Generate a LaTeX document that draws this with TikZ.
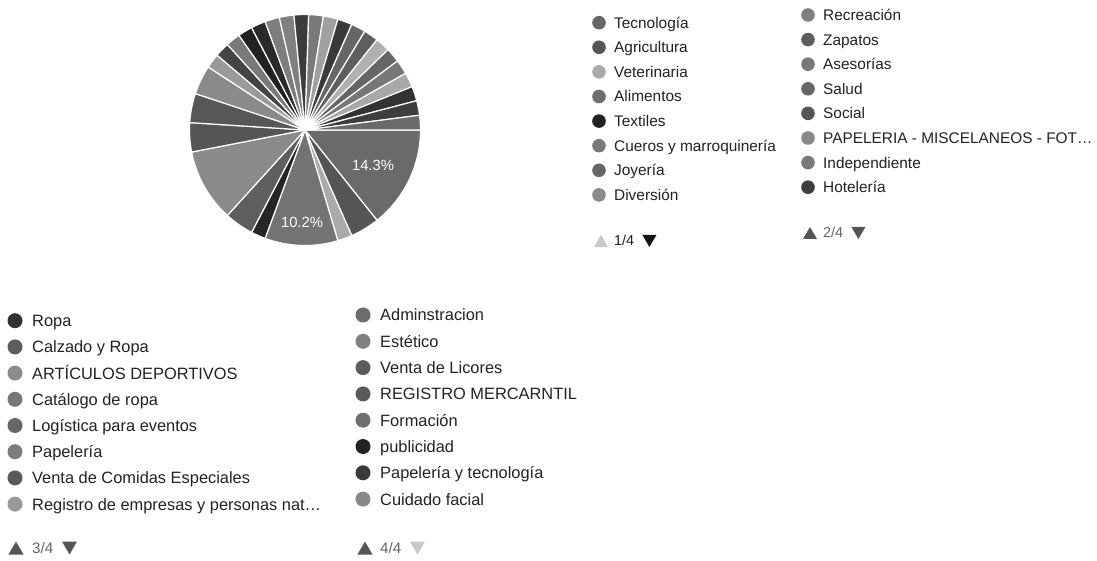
\documentclass[tikz,border=0pt]{standalone}
\usepackage{fontspec}
\setmainfont{Liberation Sans}
\usetikzlibrary{calc}
\definecolor{txt}{HTML}{222222}
\definecolor{navtxt}{HTML}{666666}
\definecolor{navon}{HTML}{555555}
\definecolor{navoff}{HTML}{C8C8C8}
\tikzset{
  slice/.style={draw=white, line width=1.2pt, line join=round},
  dottop/.style={circle, inner sep=0pt, minimum size=13.6pt},
  dotbot/.style={circle, inner sep=0pt, minimum size=15pt},
  legtop/.style={anchor=base west, inner sep=0pt, text=txt, font=\fontsize{15.4}{18}\selectfont},
  legbot/.style={anchor=base west, inner sep=0pt, text=txt, font=\fontsize{16.4}{19}\selectfont},
  navtop/.style={anchor=base west, inner sep=0pt, font=\fontsize{14.4}{17}\selectfont},
  navbot/.style={anchor=base west, inner sep=0pt, font=\fontsize{15.2}{18}\selectfont},
  pct/.style={text=white, font=\fontsize{14.8}{17}\selectfont, inner sep=0pt}
}
\begin{document}
\begin{tikzpicture}[x=1pt,y=1pt]
\useasboundingbox (0,0) rectangle (1097,560);
\fill[white] (0,0) rectangle (1097,560);

% ---------- pie ----------
\coordinate (P) at (305,430);
\foreach \a/\b/\k in {0/7/58.4, 7/9/66.7, 9/10/33.3, 10/15/54.9, 15/16/85.5, 16/18/63.1,
  18/23/45.9, 23/25/66.7, 25/27/65.9, 27/29/45.9, 29/30/39.6, 30/31/73.3, 31/32/52.2,
  32/33/86.7, 33/34/83.5, 34/35/50.6, 35/36/49.8, 36/37/76.5, 37/38/52.2, 38/39/37.3,
  39/40/77.3, 40/41/60, 41/42/63.1, 42/43/31, 43/44/60, 44/45/53.3, 45/46/34.1,
  46/47/80, 47/48/75.7, 48/49/58.4} {
  \fill[black!\k, slice] (P) -- ++({-\a*7.3469388}:115.5)
    arc[start angle={-\a*7.3469388}, end angle={-\b*7.3469388}, radius=115.5] -- cycle;
}
\node[pct] (l1) at (373,395) {14.3\%};
\node[pct] (l2) at (302,338) {10.2\%};

% ---------- legend page 1 ----------
\foreach \t/\k [count=\i from 0] in {Tecnología/60, Agricultura/66.7, Veterinaria/33.3,
  Alimentos/56.9, Textiles/86.7, Cueros y marroquinería/52.2, Joyería/60, Diversión/45.9} {
  \node[dottop, fill=black!\k] (a\i) at (599, {560-22.7-24.6*\i}) {};
  \node[legtop] (at\i) at (614, {560-22.7-24.6*\i-5.5}) {\t};
}
% ---------- legend page 2 ----------
\foreach \t/\k [count=\i from 0] in {Recreación/49.8, Zapatos/63.1, Asesorías/52.9,
  Salud/60, Social/66.7, PAPELERIA - MISCELANEOS - FOT…/46.7, Independiente/52.2, Hotelería/75.7} {
  \node[dottop, fill=black!\k] (b\i) at (808, {560-15-24.6*\i}) {};
  \node[legtop] (bt\i) at (823, {560-15-24.6*\i-5.5}) {\t};
}
% ---------- legend page 3 ----------
\foreach \t/\k [count=\i from 0] in {Ropa/80, Calzado y Ropa/63.9, ARTÍCULOS DEPORTIVOS/45.1,
  Catálogo de ropa/53.3, Logística para eventos/60, Papelería/51.4,
  Venta de Comidas Especiales/64.7, Registro de empresas y personas nat…/40} {
  \node[dotbot, fill=black!\k] (c\i) at (15, {560-320.7-26.2*\i}) {};
  \node[legbot] (ct\i) at (32, {560-320.7-26.2*\i-5.9}) {\t};
}
% ---------- legend page 4 ----------
\foreach \t/\k [count=\i from 0] in {Adminstracion/57.6, Estético/49.8, Venta de Licores/63.9,
  REGISTRO MERCARNTIL/64.7, Formación/56.1, publicidad/86.7, Papelería y tecnología/77.3,
  Cuidado facial/46.7} {
  \node[dotbot, fill=black!\k] (d\i) at (363, {560-315-26.3*\i}) {};
  \node[legbot] (dt\i) at (380, {560-315-26.3*\i-5.9}) {\t};
}

% ---------- navigation ----------
\coordinate (u1) at (601,319);
\node[navtop, text=txt] (n1) at (614,314) {1/4};
\coordinate (v1) at ($(n1.east|-u1)+(15,0)$);
\fill[navoff] (u1) +(-7,-6) -- +(7,-6) -- +(0,6) -- cycle;
\fill[black!93] (v1) +(-7,6) -- +(7,6) -- +(0,-6) -- cycle;

\coordinate (u2) at (810,327);
\node[navtop, text=navtxt] (n2) at (823,322) {2/4};
\coordinate (v2) at ($(n2.east|-u2)+(15,0)$);
\fill[navon] (u2) +(-7,-6) -- +(7,-6) -- +(0,6) -- cycle;
\fill[navon] (v2) +(-7,6) -- +(7,6) -- +(0,-6) -- cycle;

\coordinate (u3) at (16,12);
\node[navbot, text=navtxt] (n3) at (32,6.6) {3/4};
\coordinate (v3) at ($(n3.east|-u3)+(16,0)$);
\fill[navon] (u3) +(-7.5,-6.5) -- +(7.5,-6.5) -- +(0,6.5) -- cycle;
\fill[navon] (v3) +(-7.5,6.5) -- +(7.5,6.5) -- +(0,-6.5) -- cycle;

\coordinate (u4) at (365,12);
\node[navbot, text=navtxt] (n4) at (380,6.6) {4/4};
\coordinate (v4) at ($(n4.east|-u4)+(16,0)$);
\fill[navon] (u4) +(-7.5,-6.5) -- +(7.5,-6.5) -- +(0,6.5) -- cycle;
\fill[navoff] (v4) +(-7.5,6.5) -- +(7.5,6.5) -- +(0,-6.5) -- cycle;
\end{tikzpicture}
\end{document}
